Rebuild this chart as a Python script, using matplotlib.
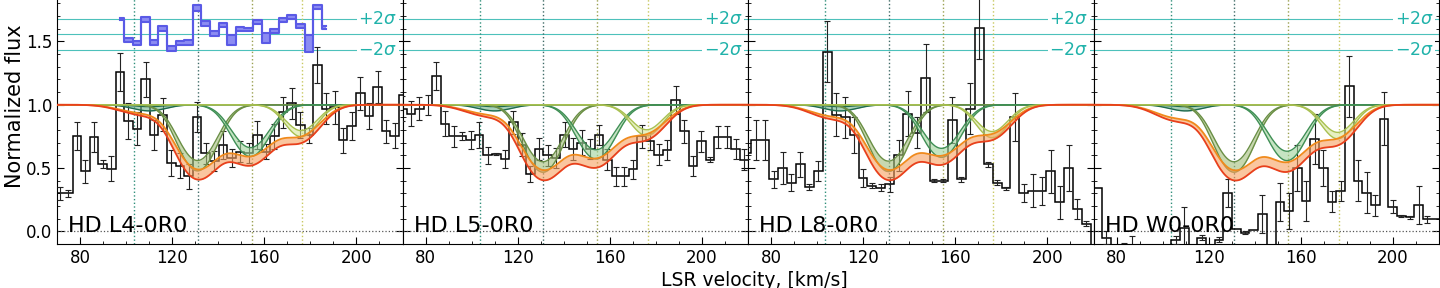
import numpy as np
import matplotlib
matplotlib.use("Agg")
import matplotlib.pyplot as plt
from matplotlib.ticker import MultipleLocator, FixedLocator

# ---- data ------------------------------------------------------------------
panel_names = ["HD L4-0R0", "HD L5-0R0", "HD L8-0R0", "HD W0-0R0"]

# first bin edge and bin width (km/s) of each spectrum
bin_start = [69.3, 68.06, 67.54, 69.85]
bin_width = [3.73, 3.71, 3.88, 3.77]

flux_l4 = [0.30, 0.30, 0.75, 0.475, 0.745, 0.53, 0.495, 1.26, 0.87, 0.81,
           1.20, 0.76, 0.92, 0.54, 0.52, 0.435, 0.905, 0.615, 0.555, 0.68,
           0.58, 0.63, 0.62, 0.76, 0.63, 0.75, 0.94, 1.01, 0.84, 0.76,
           1.315, 0.97, 0.98, 0.72, 0.835, 1.09, 0.91, 1.14, 0.79, 0.755, 1.08]
err_l4 = [0.05, 0.03, 0.11, 0.09, 0.115, 0.03, 0.10, 0.15, 0.14, 0.13,
          0.14, 0.12, 0.13, 0.10, 0.10, 0.10, 0.12, 0.08, 0.08, 0.11,
          0.07, 0.08, 0.08, 0.11, 0.06, 0.10, 0.12, 0.12, 0.10, 0.06,
          0.14, 0.12, 0.13, 0.10, 0.11, 0.13, 0.10, 0.13, 0.09, 0.10, 0.12]

flux_l5 = [0.97, 0.93, 0.97, 1.00, 1.225, 0.85, 0.75, 0.755, 0.72, 0.76,
           0.60, 0.61, 0.57, 0.86, 0.685, 0.454, 0.65, 0.60, 0.58, 0.764,
           0.65, 0.70, 0.65, 0.76, 0.567, 0.435, 0.435, 0.49, 0.75, 0.71,
           0.606, 0.64, 1.04, 0.79, 0.514, 0.71, 0.567, 0.745, 0.745, 0.65, 0.567]
err_l5 = [0.10, 0.10, 0.09, 0.08, 0.11, 0.10, 0.08, 0.03, 0.07, 0.10,
          0.07, 0.01, 0.07, 0.09, 0.09, 0.065, 0.085, 0.08, 0.08, 0.10,
          0.09, 0.10, 0.08, 0.08, 0.08, 0.075, 0.075, 0.075, 0.09, 0.07,
          0.08, 0.08, 0.11, 0.09, 0.08, 0.08, 0.02, 0.09, 0.09, 0.08, 0.08]

flux_l8 = [0.62, 0.72, 0.72, 0.41, 0.50, 0.385, 0.53, 0.35, 0.475, 1.42,
           0.92, 0.90, 0.76, 0.42, 0.36, 0.345, 0.37, 0.60, 0.93, 0.78,
           1.21, 0.40, 0.40, 0.88, 0.41, 0.97, 1.61, 0.53, 0.385, 0.34,
           0.905, 0.305, 0.32, 0.32, 0.475, 0.23, 0.50, 0.175, 0.06, -0.30]
err_l8 = [0.05, 0.16, 0.16, 0.065, 0.13, 0.065, 0.10, 0.02, 0.08, 0.24,
          0.17, 0.16, 0.14, 0.07, 0.02, 0.03, 0.06, 0.12, 0.18, 0.12,
          0.27, 0.01, 0.01, 0.18, 0.02, 0.20, 0.25, 0.02, 0.02, 0.01,
          0.19, 0.07, 0.13, 0.11, 0.17, 0.13, 0.18, 0.08, 0.02, 0.0]

flux_w0 = [0.345, -0.05, -0.20, -0.15, -0.12, -0.20, -0.20, -0.20, -0.20, -0.07,
           0.03, -0.20, -0.05, -0.20, -0.065, 0.30, 0.02, -0.01, 0.01, 0.14,
           -0.20, 0.235, 0.16, 0.50, 0.24, 0.73, 0.50, 0.235, 0.32, 1.145,
           0.40, 0.305, 0.205, 0.89, 0.195, 0.12, 0.11, 0.21, 0.095, 0.095]
err_w0 = [0.0, 0.05, 0.05, 0.06, 0.08, 0.0, 0.0, 0.0, 0.0, 0.03,
          0.16, 0.0, 0.02, 0.0, 0.02, 0.11, 0.0, 0.01, 0.0, 0.15,
          0.0, 0.15, 0.14, 0.18, 0.16, 0.20, 0.14, 0.085, 0.08, 0.24,
          0.16, 0.16, 0.085, 0.21, 0.05, 0.01, 0.01, 0.15, 0.03, 0.0]

fluxes = [flux_l4, flux_l5, flux_l8, flux_w0]
errors = [err_l4, err_l5, err_l8, err_w0]

# residuals (shifted to 1.557) shown above the L4-0R0 spectrum, bins 7..31
resid_first_bin = 7
resid_lo = [1.672, 1.495, 1.47, 1.655, 1.475, 1.585, 1.425, 1.475, 1.475, 1.74,
            1.625, 1.545, 1.615, 1.47, 1.585, 1.58, 1.635, 1.49, 1.565, 1.655,
            1.675, 1.605, 1.42, 1.755, 1.595]
resid_hi = [1.685, 1.53, 1.505, 1.69, 1.51, 1.62, 1.465, 1.505, 1.515, 1.785,
            1.66, 1.585, 1.645, 1.55, 1.615, 1.61, 1.67, 1.57, 1.595, 1.685,
            1.705, 1.635, 1.55, 1.785, 1.625]
resid_zero = 1.557
resid_2sig = 0.121

# fitted absorption components: centres (km/s), widths and optical depths
comp_v = [110.0, 131.0, 154.0, 176.0]
comp_w = [7.0, 7.5, 7.5, 6.5]
comp_tau = [[0.05, 0.66, 0.47, 0.26],
            [0.05, 0.68, 0.50, 0.25],
            [0.05, 0.67, 0.48, 0.27],
            [0.05, 0.68, 0.52, 0.28]]
total_v = [106.0, 131.0, 154.0, 176.0]
total_w = [9.0, 8.5, 9.0, 8.0]
total_tau = [[0.07, 0.79, 0.57, 0.30],
             [0.08, 0.80, 0.60, 0.27],
             [0.10, 0.80, 0.56, 0.27],
             [0.12, 0.80, 0.66, 0.32]]
line_v = [103.5, 131.0, 154.5, 176.5]

comp_edge = ["#1f6b4f", "#6a8f45", "#3f8f55", "#a8c050"]
comp_fill = ["#6fb38a", "#a4bf7a", "#9fd39a", "#d6e69a"]
vline_col = ["#2f8f7a", "#3f6a66", "#9aa050", "#c8c860"]
sig_col = "#20b2aa"


def model(v, centres, widths, taus):
    c = np.asarray(centres)[:, None]
    w = np.asarray(widths)[:, None]
    t = np.asarray(taus)[:, None]
    return np.exp(-np.sum(t * np.exp(-0.5 * ((v[None, :] - c) / w) ** 2), axis=0))


vgrid = np.linspace(60, 230, 700)

fig = plt.figure(figsize=(14.4, 2.88), dpi=100)
x0, w = 57 / 1440, 345.5 / 1440
bottom, height = 44 / 288, 276 / 288
axes = []
for i in range(4):
    ax = fig.add_axes([x0 + i * w, bottom, w, height])
    axes.append(ax)

for i, ax in enumerate(axes):
    ax.set_xlim(70, 220)
    ax.set_ylim(-0.1, 2.08)

    # reference lines
    ax.axhline(0, color="#555555", ls=":", lw=0.9)
    for v, c in zip(line_v, vline_col):
        ax.axvline(v, color=c, ls=":", lw=1.0)
    for y in (resid_zero - resid_2sig, resid_zero, resid_zero + resid_2sig):
        ax.axhline(y, color=sig_col, lw=0.8, alpha=0.8, zorder=1)
    ax.text(0.985, resid_zero + resid_2sig, r"$+2\sigma$", transform=ax.get_yaxis_transform(),
            ha="right", va="center", color=sig_col, fontsize=12.5,
            bbox=dict(facecolor="white", edgecolor="none", pad=1.0), zorder=3)
    ax.text(0.985, resid_zero - resid_2sig, r"$-2\sigma$", transform=ax.get_yaxis_transform(),
            ha="right", va="center", color=sig_col, fontsize=12.5,
            bbox=dict(facecolor="white", edgecolor="none", pad=1.0), zorder=3)

    # data
    flux = np.array(fluxes[i])
    err = np.array(errors[i])
    edges = bin_start[i] + bin_width[i] * np.arange(len(flux) + 1)
    centres = 0.5 * (edges[1:] + edges[:-1])
    ax.stairs(flux, edges, baseline=None, color="black", lw=1.1, zorder=4)
    ok = err > 0
    ax.errorbar(centres[ok], flux[ok], yerr=err[ok], fmt="none", ecolor="#222222",
                elinewidth=0.8, capsize=2, capthick=0.8, zorder=4)

    # individual components
    for k in range(4):
        t = comp_tau[i][k]
        lo_scale, hi_scale = (0.3, 1.0) if k == 0 else (0.88, 1.12)
        f_lo = model(vgrid, [comp_v[k]], [comp_w[k]], [t * hi_scale])
        f_hi = model(vgrid, [comp_v[k]], [comp_w[k]], [t * lo_scale])
        ax.fill_between(vgrid, f_lo, f_hi, color=comp_fill[k], alpha=0.6, lw=0, zorder=5)
        ax.plot(vgrid, f_lo, color=comp_edge[k], lw=1.0, zorder=5)
        ax.plot(vgrid, f_hi, color=comp_edge[k], lw=1.0, zorder=5)

    # total model
    t = np.array(total_tau[i])
    f_up = model(vgrid, total_v, total_w, t * 0.88)
    f_dn = model(vgrid, total_v, total_w, t * 1.1)
    ax.fill_between(vgrid, f_dn, f_up, color="#f7a060", alpha=0.6, lw=0, zorder=6)
    ax.plot(vgrid, f_up, color="#f08a1c", lw=1.3, zorder=6)
    ax.plot(vgrid, f_dn, color="#e8401c", lw=1.3, zorder=6)

    ax.text(0.032, 0.045, panel_names[i], transform=ax.transAxes, fontsize=16,
            ha="left", va="baseline", zorder=7)

    ax.xaxis.set_major_locator(MultipleLocator(40))
    ax.xaxis.set_minor_locator(MultipleLocator(10))
    ax.yaxis.set_major_locator(FixedLocator([0.0, 0.5, 1.0, 1.5]))
    ax.yaxis.set_minor_locator(MultipleLocator(0.1))
    ax.tick_params(which="both", direction="in", top=True, right=True, labelsize=12)
    ax.tick_params(which="major", length=5)
    ax.tick_params(which="minor", length=2.5)
    if i > 0:
        ax.tick_params(labelleft=False)

# residual band on the first panel
ax = axes[0]
edges = bin_start[0] + bin_width[0] * np.arange(len(flux_l4) + 1)
centres = 0.5 * (edges[1:] + edges[:-1])
rc = centres[resid_first_bin:resid_first_bin + len(resid_lo)]
ax.fill_between(rc, resid_lo, resid_hi, step="mid", color="#8c8cf2", lw=0, zorder=5)
ax.step(rc, resid_lo, where="mid", color="#5a5ae6", lw=1.5, zorder=5)
ax.step(rc, resid_hi, where="mid", color="#5a5ae6", lw=1.5, zorder=5)

axes[0].set_ylabel("Normalized flux", fontsize=15)
axes[0].yaxis.set_label_coords(-0.094, 0.5)
fig.text(0.524, 0.008, "LSR velocity, [km/s]", ha="center", va="baseline", fontsize=13.5)

fig.savefig("out.png", dpi=100)
